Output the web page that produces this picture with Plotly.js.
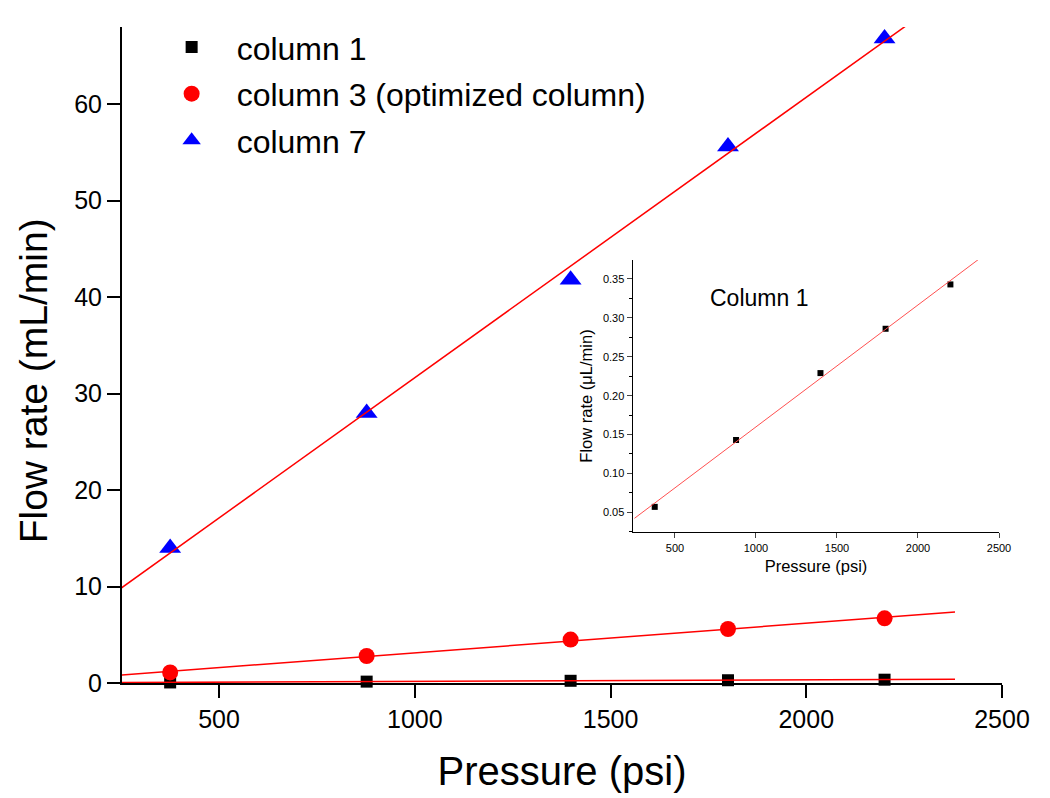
<!DOCTYPE html>
<html>
<head>
<meta charset="utf-8">
<script src="https://cdn.plot.ly/plotly-3.0.1.min.js"></script>
<style>html,body{margin:0;padding:0;background:#fff;}#chart{width:1050px;height:798px;}</style>
</head>
<body>
<div id="chart"></div>
<script>
// Data
const pressure = [375, 877, 1398, 1800, 2200];
const column1 = [0.057, 0.143, 0.229, 0.286, 0.343];
const column3 = [1.1, 2.8, 4.5, 5.6, 6.7];
const column7 = [14.0, 28.0, 41.8, 55.6, 66.8];
const seriesNames = ['column 1', 'column 3 (optimized column)', 'column 7'];
const fitX = [250, 2380];
const mainXTicks = [500, 1000, 1500, 2000, 2500];
const mainYTicks = [0, 10, 20, 30, 40, 50, 60];
const insetYTicks = [0.05, 0.10, 0.15, 0.20, 0.25, 0.30, 0.35];

function linFit(xs, ys) {
  const n = xs.length;
  const mx = xs.reduce((a, b) => a + b, 0) / n;
  const my = ys.reduce((a, b) => a + b, 0) / n;
  let sxy = 0, sxx = 0;
  for (let i = 0; i < n; i++) { sxy += (xs[i] - mx) * (ys[i] - my); sxx += (xs[i] - mx) ** 2; }
  const m = sxy / sxx;
  const b = my - m * mx;
  return fitX.map(x => m * x + b);
}

const font = 'Liberation Sans, Arial, sans-serif';

const traces = [
  {x: pressure, y: column1, mode: 'markers', name: seriesNames[0], legendgroup: 'a',
   marker: {symbol: 'square', size: 12, color: '#000'}, cliponaxis: false},
  {x: pressure, y: column3, mode: 'markers', name: seriesNames[1], legendgroup: 'b',
   marker: {symbol: 'circle', size: 16, color: '#ff0000'}, cliponaxis: false},
  {x: pressure, y: column7, mode: 'markers', name: seriesNames[2], legendgroup: 'c',
   marker: {symbol: 'triangle-up', size: 19, color: '#0000ff'}, cliponaxis: false},
  {x: fitX, y: linFit(pressure, column1), mode: 'lines', showlegend: false, line: {color: '#ff0000', width: 1.5}},
  {x: fitX, y: linFit(pressure, column3), mode: 'lines', showlegend: false, line: {color: '#ff0000', width: 1.5}},
  {x: fitX, y: linFit(pressure, column7), mode: 'lines', showlegend: false, line: {color: '#ff0000', width: 1.5}},
  // inset
  {x: pressure, y: column1, mode: 'markers', showlegend: false, xaxis: 'x2', yaxis: 'y2',
   marker: {symbol: 'square', size: 6, color: '#000'}},
  {x: fitX, y: linFit(pressure, column1), mode: 'lines', showlegend: false, xaxis: 'x2', yaxis: 'y2',
   line: {color: '#ff5050', width: 1}}
];

const layout = {
  width: 1050, height: 798,
  margin: {l: 122, r: 48, t: 27, b: 115},
  paper_bgcolor: '#fff', plot_bgcolor: 'rgba(0,0,0,0)',
  font: {family: font, color: '#000'},
  showlegend: true,
  legend: {x: 0.028, y: 1.011, xanchor: 'left', yanchor: 'top', font: {size: 32, family: font},
           bgcolor: 'rgba(0,0,0,0)', traceorder: 'grouped', tracegroupgap: 2, itemsizing: 'trace',
           itemwidth: 80},
  xaxis: {range: [252, 2500], tickvals: mainXTicks, showline: true, linewidth: 2, linecolor: '#000',
          ticks: 'outside', ticklen: 13, tickwidth: 2, tickcolor: '#000', showgrid: false, zeroline: false,
          tickfont: {size: 25}, title: {text: 'Pressure (psi)', font: {size: 40}, standoff: 25}},
  yaxis: {range: [0, 68], tickvals: mainYTicks, showline: true, linewidth: 2, linecolor: '#000',
          ticks: 'outside', ticklen: 13, tickwidth: 2, tickcolor: '#000', showgrid: false, zeroline: false,
          tickfont: {size: 25}},
  xaxis2: {domain: [0.5807, 0.9966], anchor: 'y2', range: [241, 2500], tickvals: mainXTicks,
           showline: true, linewidth: 1.5, linecolor: '#000', ticks: 'outside', ticklen: 5, tickwidth: 1,
           showgrid: false, zeroline: false, tickfont: {size: 11},
           title: {text: 'Pressure (psi)', font: {size: 16.5}, standoff: 8}},
  yaxis2: {domain: [0.2302, 0.6448], anchor: 'x2', range: [0.0247, 0.3744], tickvals: insetYTicks,
           ticktext: insetYTicks.map(v => v.toFixed(2)),
           showline: true, linewidth: 1.5, linecolor: '#000', ticks: 'outside', ticklen: 5, tickwidth: 1,
           minor: {dtick: 0.025, tick0: 0.025, ticks: 'outside', ticklen: 3, tickcolor: '#000', showgrid: false},
           showgrid: false, zeroline: false, tickfont: {size: 11},
           title: {text: 'Flow rate (\u03bcL/min)', font: {size: 16.5}, standoff: 6}},
  annotations: [
    {text: 'Flow rate (mL/min)', xref: 'paper', yref: 'paper', x: -0.101, y: 0.46, showarrow: false,
     textangle: -90, font: {size: 39, family: font}, xanchor: 'center', yanchor: 'middle'},
    {text: 'Column 1', xref: 'paper', yref: 'paper', x: 0.724, y: 0.587, showarrow: false,
     font: {size: 23, family: font}, xanchor: 'center', yanchor: 'middle'}
  ]
};

Plotly.newPlot('chart', traces, layout, {displayModeBar: false, staticPlot: true});
</script>
</body>
</html>
